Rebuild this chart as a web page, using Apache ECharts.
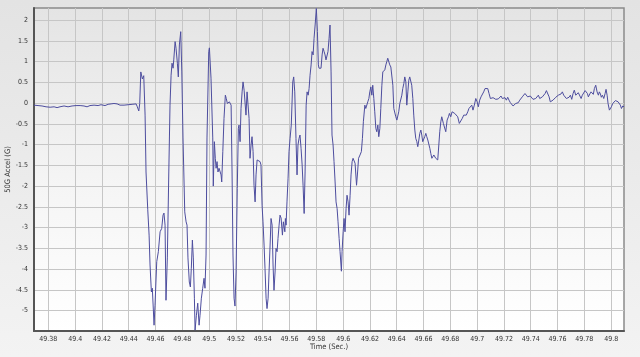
<!DOCTYPE html>
<html>
<head>
<meta charset="utf-8">
<script src="https://cdn.jsdelivr.net/npm/echarts@6/dist/echarts.min.js"></script>
<style>
html,body{margin:0;padding:0;background:#ebebeb;}
#chart{width:640px;height:357px;}
</style>
</head>
<body>
<div id="chart"></div>
<script>
// ---- data ----
var xTitle = 'Time (Sec.)';
var yTitle = '50G Accel (G)';
var xTicks = [49.38, 49.40, 49.42, 49.44, 49.46, 49.48, 49.50, 49.52, 49.54, 49.56, 49.58, 49.60, 49.62, 49.64, 49.66, 49.68, 49.70, 49.72, 49.74, 49.76, 49.78, 49.80];
var yTicks = [-5, -4.5, -4, -3.5, -3, -2.5, -2, -1.5, -1, -0.5, 0, 0.5, 1, 1.5, 2];
var xRange = [49.3693, 49.8096];
var yRange = [-5.49, 2.29];

var timeSec = [
49.3693, 49.3723, 49.3753, 49.3783, 49.3813, 49.3843, 49.3865, 49.3887, 49.3917, 49.3947,
49.3977, 49.4007, 49.4037, 49.4066, 49.4089, 49.4111, 49.4141, 49.4171, 49.4193, 49.4223,
49.4246, 49.4268, 49.4290, 49.4313, 49.4335, 49.4365, 49.4395, 49.4425, 49.4455, 49.4464,
49.4475, 49.4482, 49.4490, 49.4494, 49.4502, 49.4512, 49.4522, 49.4529, 49.4542, 49.4552,
49.4559, 49.4569, 49.4576, 49.4581, 49.4589, 49.4596, 49.4609, 49.4621, 49.4634, 49.4646,
49.4656, 49.4663, 49.4671, 49.4678, 49.4688, 49.4699, 49.4708, 49.4716, 49.4723, 49.4731,
49.4736, 49.4746, 49.4753, 49.4763, 49.4770, 49.4778, 49.4788, 49.4796, 49.4805, 49.4818,
49.4828, 49.4835, 49.4842, 49.4852, 49.4860, 49.4867, 49.4875, 49.4882, 49.4890, 49.4895,
49.4905, 49.4915, 49.4925, 49.4932, 49.4942, 49.4952, 49.4962, 49.4969, 49.4977, 49.4984,
49.4997, 49.5002, 49.5014, 49.5027, 49.5031, 49.5039, 49.5046, 49.5052, 49.5059, 49.5066,
49.5074, 49.5081, 49.5089, 49.5094, 49.5102, 49.5111, 49.5121, 49.5128, 49.5136, 49.5143,
49.5151, 49.5158, 49.5164, 49.5171, 49.5178, 49.5186, 49.5193, 49.5201, 49.5210, 49.5218,
49.5223, 49.5231, 49.5238, 49.5246, 49.5253, 49.5261, 49.5268, 49.5275, 49.5283, 49.5290,
49.5298, 49.5305, 49.5313, 49.5320, 49.5328, 49.5335, 49.5343, 49.5350, 49.5358, 49.5365,
49.5372, 49.5380, 49.5387, 49.5395, 49.5402, 49.5410, 49.5417, 49.5425, 49.5432, 49.5440,
49.5447, 49.5455, 49.5462, 49.5470, 49.5477, 49.5484, 49.5492, 49.5499, 49.5507, 49.5514,
49.5522, 49.5529, 49.5537, 49.5547, 49.5554, 49.5565, 49.5569, 49.5574, 49.5581, 49.5589,
49.5596, 49.5604, 49.5613, 49.5624, 49.5631, 49.5639, 49.5648, 49.5656, 49.5663, 49.5671,
49.5678, 49.5686, 49.5694, 49.5701, 49.5709, 49.5716, 49.5724, 49.5731, 49.5739, 49.5746,
49.5753, 49.5761, 49.5768, 49.5776, 49.5783, 49.5791, 49.5800, 49.5808, 49.5815, 49.5820,
49.5828, 49.5835, 49.5843, 49.5850, 49.5858, 49.5865, 49.5872, 49.5880, 49.5887, 49.5895,
49.5902, 49.5910, 49.5917, 49.5925, 49.5932, 49.5940, 49.5947, 49.5955, 49.5962, 49.5970,
49.5977, 49.5987, 49.5992, 49.6000, 49.6007, 49.6014, 49.6022, 49.6029, 49.6037, 49.6044,
49.6052, 49.6059, 49.6067, 49.6074, 49.6082, 49.6089, 49.6100, 49.6108, 49.6115, 49.6126,
49.6136, 49.6144, 49.6151, 49.6162, 49.6169, 49.6177, 49.6184, 49.6192, 49.6199, 49.6207,
49.6214, 49.6221, 49.6229, 49.6236, 49.6244, 49.6251, 49.6259, 49.6266, 49.6274, 49.6281,
49.6289, 49.6296, 49.6304, 49.6311, 49.6319, 49.6326, 49.6333, 49.6341, 49.6348, 49.6356,
49.6363, 49.6371, 49.6378, 49.6386, 49.6393, 49.6401, 49.6408, 49.6415, 49.6423, 49.6430,
49.6438, 49.6445, 49.6453, 49.6460, 49.6468, 49.6475, 49.6483, 49.6490, 49.6497, 49.6505,
49.6512, 49.6520, 49.6527, 49.6535, 49.6542, 49.6550, 49.6557, 49.6565, 49.6572, 49.6580,
49.6587, 49.6594, 49.6602, 49.6609, 49.6617, 49.6624, 49.6632, 49.6639, 49.6647, 49.6654,
49.6662, 49.6669, 49.6677, 49.6684, 49.6691, 49.6699, 49.6706, 49.6714, 49.6721, 49.6729,
49.6736, 49.6748, 49.6766, 49.6776, 49.6786, 49.6793, 49.6803, 49.6813, 49.6823, 49.6833,
49.6843, 49.6855, 49.6867, 49.6880, 49.6889, 49.6900, 49.6909, 49.6919, 49.6930, 49.6939,
49.6949, 49.6960, 49.6969, 49.6979, 49.6990, 49.7000, 49.7009, 49.7019, 49.7029, 49.7039,
49.7049, 49.7059, 49.7069, 49.7079, 49.7089, 49.7099, 49.7109, 49.7119, 49.7128, 49.7139,
49.7149, 49.7158, 49.7169, 49.7178, 49.7188, 49.7198, 49.7208, 49.7218, 49.7228, 49.7238,
49.7248, 49.7258, 49.7268, 49.7277, 49.7288, 49.7298, 49.7307, 49.7318, 49.7328, 49.7337,
49.7348, 49.7357, 49.7367, 49.7377, 49.7387, 49.7397, 49.7407, 49.7417, 49.7427, 49.7437,
49.7447, 49.7457, 49.7467, 49.7477, 49.7487, 49.7497, 49.7507, 49.7517, 49.7527, 49.7537,
49.7546, 49.7557, 49.7566, 49.7576, 49.7587, 49.7596, 49.7606, 49.7616, 49.7626, 49.7636,
49.7646, 49.7656, 49.7666, 49.7676, 49.7686, 49.7696, 49.7706, 49.7716, 49.7725, 49.7736,
49.7746, 49.7755, 49.7766, 49.7776, 49.7785, 49.7796, 49.7806, 49.7815, 49.7823, 49.7830,
49.7841, 49.7850, 49.7860, 49.7867, 49.7875, 49.7885, 49.7895, 49.7905, 49.7912, 49.7920,
49.7927, 49.7935, 49.7945, 49.7955, 49.7962, 49.7970, 49.7977, 49.7987, 49.7994, 49.8002,
49.8012, 49.8022, 49.8032, 49.8042, 49.8052, 49.8062, 49.8069, 49.8077, 49.8087, 49.8096
];

var accelG = [
-0.05, -0.06, -0.07, -0.09, -0.10, -0.09, -0.11, -0.09, -0.07, -0.09,
-0.07, -0.06, -0.06, -0.07, -0.09, -0.06, -0.05, -0.06, -0.04, -0.06,
-0.03, -0.02, -0.01, -0.02, -0.05, -0.05, -0.04, -0.03, -0.02, -0.09,
-0.19, -0.01, 0.75, 0.77, 0.58, 0.66, -0.29, -1.66, -2.57, -3.18,
-3.90, -4.55, -4.46, -4.43, -5.35, -4.87, -3.82, -3.58, -3.10, -3.02,
-2.70, -2.65, -2.94, -4.75, -3.73, -1.66, -0.05, 0.67, 0.96, 0.84,
1.04, 1.48, 1.32, 0.96, 0.63, 1.40, 1.72, 0.75, -0.84, -2.62,
-2.86, -2.94, -3.73, -4.31, -4.43, -3.98, -3.30, -3.73, -4.70, -5.47,
-5.11, -4.82, -5.35, -5.11, -4.70, -4.46, -4.22, -4.46, -3.66, -0.84,
1.24, 1.33, 0.60, -0.84, -2.00, -0.93, -1.33, -1.57, -1.41, -1.66,
-1.57, -1.61, -1.73, -1.90, -1.17, -0.37, 0.19, 0.11, -0.01, -0.05,
0.03, 0.07, -0.05, -1.66, -3.66, -4.70, -4.89, -4.07, -2.06, -0.61,
-0.53, -0.93, -0.13, 0.27, 0.51, 0.31, 0.27, -0.29, 0.27, 0.23,
-0.37, -1.33, -1.01, -0.81, -1.17, -1.98, -2.38, -1.73, -1.37, -1.33,
-1.37, -1.41, -1.49, -2.46, -2.86, -3.42, -3.98, -4.70, -4.95, -4.70,
-4.07, -3.42, -2.78, -2.94, -3.90, -4.51, -4.07, -3.50, -3.58, -3.26,
-2.94, -2.70, -2.77, -3.18, -2.86, -3.10, -2.78, -2.94, -2.38, -1.81,
-1.17, -0.85, -0.53, 0.51, 0.63, 0.27, -0.85, -1.73, -1.01, -0.85,
-0.77, -1.09, -1.49, -1.98, -2.66, -1.66, -0.05, 0.27, 0.19, 0.35,
0.67, 0.92, 1.24, 1.16, 1.56, 1.88, 2.28, 1.72, 0.92, 0.84,
0.87, 0.84, 1.16, 1.32, 1.24, 1.16, 1.04, 1.00, 1.24, 1.56,
1.88, 0.75, -0.77, -1.01, -1.41, -1.90, -2.38, -2.54, -2.86, -3.26,
-3.58, -4.05, -3.58, -3.10, -2.78, -3.10, -2.54, -2.22, -2.38, -2.70,
-2.22, -1.73, -1.41, -1.33, -1.29, -1.45, -1.98, -1.66, -1.33, -1.25,
-1.17, -0.85, -0.45, -0.05, -0.13, -0.17, 0.03, 0.11, 0.27, 0.39,
0.19, 0.43, 0.11, -0.21, -0.61, -0.69, -0.53, -0.81, -0.61, -0.13,
0.43, 0.75, 0.72, 0.80, 0.92, 1.00, 1.08, 1.04, 0.92, 0.87,
0.89, 0.43, -0.13, -0.17, -0.33, -0.41, -0.37, -0.21, -0.01, 0.03,
0.19, 0.35, 0.47, 0.63, 0.51, -0.05, 0.27, 0.55, 0.63, 0.60,
0.43, 0.11, -0.29, -0.65, -0.85, -0.93, -1.05, -0.89, -0.73, -0.65,
-0.77, -0.93, -0.89, -0.81, -0.73, -0.81, -0.89, -0.93, -1.09, -1.21,
-1.33, -1.29, -1.25, -1.29, -1.33, -1.35, -1.37, -1.01, -0.69, -0.45,
-0.33, -0.49, -0.69, -0.41, -0.33, -0.25, -0.33, -0.21, -0.17, -0.25,
-0.29, -0.33, -0.49, -0.53, -0.37, -0.29, -0.25, -0.29, -0.21, -0.13,
-0.13, -0.05, -0.17, -0.05, 0.11, 0.03, -0.09, 0.07, 0.15, 0.19,
0.27, 0.35, 0.38, 0.35, 0.23, 0.11, 0.15, 0.13, 0.11, 0.09,
0.13, 0.10, 0.14, 0.17, 0.11, 0.11, 0.13, 0.07, 0.14, 0.07,
0.01, -0.01, -0.07, -0.10, -0.01, 0.03, 0.01, 0.07, 0.11, 0.15,
0.19, 0.23, 0.19, 0.15, 0.14, 0.17, 0.14, 0.09, 0.09, 0.11,
0.14, 0.19, 0.11, 0.09, 0.15, 0.19, 0.23, 0.30, 0.31, 0.15,
0.03, -0.01, 0.07, 0.11, 0.14, 0.17, 0.19, 0.15, 0.22, 0.27,
0.19, 0.15, 0.11, 0.07, 0.14, 0.19, 0.09, 0.23, 0.31, 0.19,
0.15, 0.25, 0.21, 0.11, 0.19, 0.23, 0.30, 0.33, 0.23, 0.15,
0.22, 0.27, 0.31, 0.21, 0.35, 0.43, 0.27, 0.19, 0.27, 0.22,
0.14, 0.19, 0.11, 0.23, 0.33, 0.19, -0.01, -0.17, -0.21, -0.09,
-0.01, -0.02, 0.06, 0.07, 0.03, 0.01, -0.05, -0.13, -0.07, -0.09
];

// ---- chart ----
var fontFam = '"DejaVu Sans Condensed", "DejaVu Sans", "Liberation Sans", sans-serif';
function fmt(v) { return String(Math.round(v * 100) / 100); }
var seriesData = timeSec.map(function (t, i) { return [t, accelG[i]]; });

var chart = echarts.init(document.getElementById('chart'), null, { renderer: 'canvas' });
chart.setOption({
  animation: false,
  backgroundColor: {
    type: 'linear', x: 0, y: 0, x2: 0, y2: 1,
    colorStops: [{ offset: 0, color: '#e3e3e3' }, { offset: 1, color: '#f3f3f3' }]
  },
  grid: {
    left: 34, right: 16, top: 8, bottom: 26,
    containLabel: false,
    outerBoundsMode: 'none',
    show: true,
    borderColor: '#8a8a8a', borderWidth: 1.5,
    backgroundColor: {
      type: 'linear', x: 0, y: 0, x2: 0, y2: 1,
      colorStops: [{ offset: 0, color: '#e4e4e4' }, { offset: 0.55, color: '#f5f5f5' }, { offset: 1, color: '#ffffff' }]
    }
  },
  xAxis: {
    type: 'value',
    min: xRange[0], max: xRange[1],
    name: xTitle, nameLocation: 'middle', nameGap: 12, nameMoveOverlap: false,
    nameTextStyle: { fontSize: 7.5, color: '#333', fontFamily: fontFam },
    axisLine: { show: true, onZero: false, lineStyle: { color: '#555', width: 2 } },
    axisTick: { show: false, customValues: xTicks },
    axisLabel: { customValues: xTicks, formatter: fmt, fontSize: 7, color: '#333', margin: 5, fontFamily: fontFam },
    splitLine: { show: true, lineStyle: { color: '#c6c6c6', width: 1 } }
  },
  yAxis: {
    type: 'value',
    min: yRange[0], max: yRange[1],
    name: yTitle, nameLocation: 'middle', nameGap: 22, nameRotate: 90, nameMoveOverlap: false,
    nameTextStyle: { fontSize: 7.5, color: '#333', fontFamily: fontFam },
    axisLine: { show: true, onZero: false, lineStyle: { color: '#555', width: 2 } },
    axisTick: { show: false, customValues: yTicks },
    axisLabel: { customValues: yTicks, formatter: fmt, fontSize: 7, color: '#333', margin: 6, fontFamily: fontFam },
    splitLine: { show: true, lineStyle: { color: '#c6c6c6', width: 1 } }
  },
  series: [{
    type: 'line',
    data: seriesData,
    showSymbol: false,
    symbol: 'none',
    lineStyle: { color: '#4d4d9e', width: 1 },
    silent: true
  }]
});
</script>
</body>
</html>
